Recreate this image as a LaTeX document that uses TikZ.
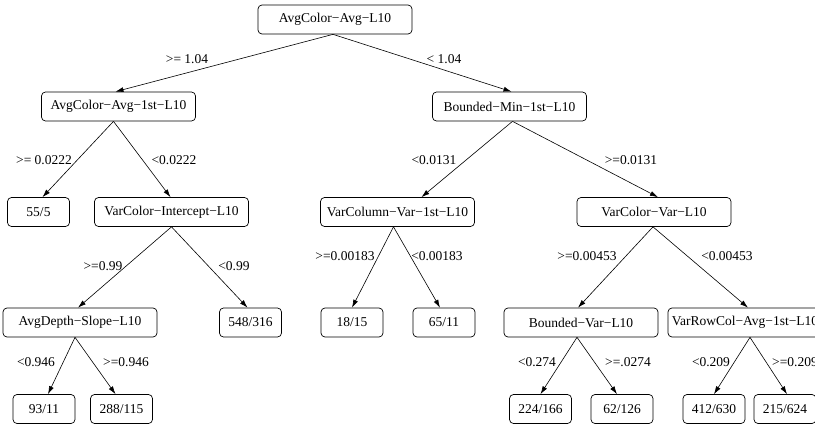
\documentclass[tikz,border=0pt]{standalone}
\usepackage{fontspec}
\setmainfont{Liberation Serif}
\usetikzlibrary{arrows.meta}
\begin{document}
\begin{tikzpicture}[x=1pt,y=-1pt,
  font=\fontsize{13.5}{15}\selectfont,
  inner/.style={draw,rounded corners=4pt,minimum width=154pt,minimum height=29pt,inner sep=0pt,line width=0.7pt},
  leaf/.style={draw,rounded corners=4pt,minimum width=62pt,minimum height=29pt,inner sep=0pt,line width=0.7pt},
  edge/.style={-{Latex[length=8pt,width=5pt]},line width=0.6pt},
  lbl/.style={inner sep=0pt}]
\useasboundingbox (0,0) rectangle (815,428);
\begin{scope}
\clip (0,0) rectangle (815,428);
% level 0
\node[inner] (root) at (335,19.5) {AvgColor−Avg−L10};
% level 1
\node[inner] (l1) at (118.5,106.5) {AvgColor−Avg−1st−L10};
\node[inner] (bm) at (509.5,106.5) {Bounded−Min−1st−L10};
% level 2
\node[leaf] (n55) at (38.5,212) {55/5};
\node[inner] (vci) at (171.5,212) {VarColor−Intercept−L10};
\node[inner] (vc) at (397.5,212) {VarColumn−Var−1st−L10};
\node[inner] (vcv) at (654,212) {VarColor−Var−L10};
% level 3
\node[inner] (ad) at (80,322.5) {AvgDepth−Slope−L10};
\node[leaf] (n548) at (250.5,322.5) {548/316};
\node[leaf] (n18) at (352,322.5) {18/15};
\node[leaf] (n65) at (444,322.5) {65/11};
\node[inner] (bv) at (581,322.5) {Bounded−Var−L10};
\node[inner] (vr) at (745,322.5) {VarRowCol−Avg−1st−L10};
% level 4
\node[leaf] (n93) at (44,409) {93/11};
\node[leaf] (n288) at (121.5,409) {288/115};
\node[leaf] (n224) at (540.5,409) {224/166};
\node[leaf] (n62) at (622,409) {62/126};
\node[leaf] (n412) at (714,409) {412/630};
\node[leaf] (n215) at (785,409) {215/624};
% edges
\draw[edge] ([xshift=-2pt]root.south) -- ([xshift=-3pt]l1.north);
\draw[edge] ([xshift=-2pt]root.south) -- ([xshift=2pt]bm.north);
\draw[edge] ([xshift=-5pt]l1.south) -- ([xshift=4pt]n55.north);
\draw[edge] ([xshift=-5pt]l1.south) -- ([xshift=-1pt]vci.north);
\draw[edge] ([xshift=3pt]bm.south) -- ([xshift=24pt]vc.north);
\draw[edge] ([xshift=3pt]bm.south) -- ([xshift=4pt]vcv.north);
\draw[edge] (vci.south) -- ([xshift=-2pt]ad.north);
\draw[edge] (vci.south) -- ([xshift=-3pt]n548.north);
\draw[edge] ([xshift=-4pt]vc.south) -- (n18.north);
\draw[edge] ([xshift=-4pt]vc.south) -- ([xshift=-4pt]n65.north);
\draw[edge] ([xshift=-1pt]vcv.south) -- ([xshift=-3pt]bv.north);
\draw[edge] ([xshift=-1pt]vcv.south) -- ([xshift=3pt]vr.north);
\draw[edge] ([xshift=-5pt]ad.south) -- ([xshift=4pt]n93.north);
\draw[edge] ([xshift=-5pt]ad.south) -- ([xshift=-6pt]n288.north);
\draw[edge] ([xshift=-4pt]bv.south) -- (n224.north);
\draw[edge] ([xshift=-4pt]bv.south) -- ([xshift=-5pt]n62.north);
\draw[edge] ([xshift=5pt]vr.south) -- (n412.north);
\draw[edge] ([xshift=5pt]vr.south) -- ([xshift=2pt]n215.north);
% edge labels
\node[lbl] (e1) at (187,59) {>= 1.04};
\node[lbl] (e2) at (444,59) {< 1.04};
\node[lbl] (e3) at (44,160) {>= 0.0222};
\node[lbl] (e4) at (174,160) {<0.0222};
\node[lbl] (e5) at (434,160) {<0.0131};
\node[lbl] (e6) at (631,160) {>=0.0131};
\node[lbl] (e7) at (103,266) {>=0.99};
\node[lbl] (e8) at (234,266) {<0.99};
\node[lbl] (e9) at (345,256) {>=0.00183};
\node[lbl] (e10) at (437,256) {<0.00183};
\node[lbl] (e11) at (587,256) {>=0.00453};
\node[lbl] (e12) at (727,256) {<0.00453};
\node[lbl] (e13) at (36,362) {<0.946};
\node[lbl] (e14) at (126,362) {>=0.946};
\node[lbl] (e15) at (537,362) {<0.274};
\node[lbl] (e16) at (628,362) {>=.0274};
\node[lbl] (e17) at (711,362) {<0.209};
\node[lbl] (e18) at (795,362) {>=0.209};
\end{scope}
\end{tikzpicture}
\end{document}
